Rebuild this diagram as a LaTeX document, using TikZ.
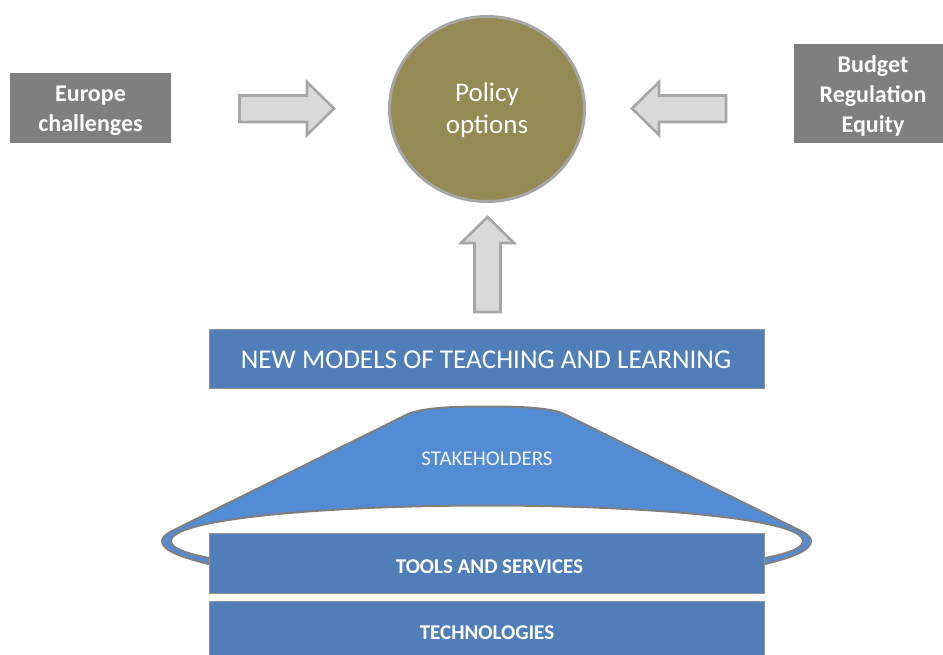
\documentclass[tikz,border=0pt]{standalone}
\usepackage{fontspec}
\usetikzlibrary{shapes.geometric}
\setmainfont{Carlito}
\definecolor{boxblue}{HTML}{4F7EB8}
\definecolor{capblue}{HTML}{538BD5}
\definecolor{edgegrey}{HTML}{7F7F7F}
\definecolor{arrowedge}{HTML}{A6A6A6}
\definecolor{arrowfill}{HTML}{D9D9D9}
\definecolor{olive}{HTML}{948A54}
\tikzset{
  x=1pt,y=-1pt,
  greyfill/.style={fill=edgegrey,draw=none},
  greytext/.style={text=white,font=\bfseries\fontsize{24}{29.7}\selectfont,align=center,inner sep=0pt},
  bluefill/.style={fill=boxblue,draw=edgegrey!85!white,line width=1.9pt},
  bluetext/.style={text=white,inner sep=0pt,align=center,font=\bfseries\fontsize{21}{24}\selectfont},
  blockarrow/.style={fill=arrowfill,draw=arrowedge,line width=2.6pt,line join=miter},
}
\begin{document}
\begin{tikzpicture}
\path[use as bounding box] (0,0) rectangle (943,655);
% stakeholders cap
\draw[fill=capblue,draw=edgegrey,line width=2pt,line join=round]
  (209,564) .. controls (180,557) and (162,550) .. (162,541)
  .. controls (162,538) and (165,535) .. (170,532)
  -- (408,414) .. controls (425,407) and (460,406.5) .. (487,406.5)
  .. controls (514,406.5) and (549,407) .. (564,414)
  -- (803,532) .. controls (808,535) and (811,538) .. (811,541)
  .. controls (811,550) and (794,557) .. (765,564)
  -- (765,558) .. controls (790,553) and (803,548) .. (803,541)
  .. controls (803,518) and (640,505.5) .. (487,505.5)
  .. controls (334,505.5) and (171,518) .. (171,541)
  .. controls (171,548) and (184,553) .. (209,558) -- cycle;
\node[text=white,inner sep=0pt,font=\fontsize{21}{24}\selectfont,opacity=.9] (stake) at (487,458.5) {STAKEHOLDERS};
% top row
\path[greyfill] (10,73) rectangle (171,143);
\node[greytext] (europe) at (90.5,111) {Europe\\challenges};
\path[greyfill] (794,44) rectangle (943,143);
\node[greytext] (budget) at (873,96) {Budget\\Regulation\\Equity};
\node[ellipse,fill=olive,draw=arrowedge,line width=3pt,minimum width=195pt,minimum height=185pt,inner sep=0pt] (policy) at (487,109) {};
\node[text=white,align=center,inner sep=0pt,font=\fontsize{27}{32}\selectfont] (policytext) at (487,110) {Policy\\options};
% block arrows
\draw[blockarrow] (239.5,95.5) -- (307,95.5) -- (307,82) -- (334,108.5) -- (307,135) -- (307,122) -- (239.5,122) -- cycle;
\draw[blockarrow] (726,95.5) -- (659,95.5) -- (659,82) -- (632,108.5) -- (659,135) -- (659,122) -- (726,122) -- cycle;
\draw[blockarrow] (474.5,312) -- (474.5,243) -- (461,243) -- (487.5,217) -- (514,243) -- (500.5,243) -- (500.5,312) -- cycle;
% blue boxes
\path[bluefill] (209.5,329.5) rectangle (764.5,388.5);
\node[bluetext,font=\fontsize{27.2}{30}\selectfont] (models) at (486,359.5) {NEW MODELS OF TEACHING AND LEARNING};
\path[bluefill] (209.5,533.5) rectangle (764.5,593.5);
\node[bluetext] (tools) at (489.5,567) {TOOLS AND SERVICES};
\path[bluefill] (209.5,601.5) rectangle (764.5,662);
\node[bluetext] (tech) at (487,633) {TECHNOLOGIES};
\end{tikzpicture}
\end{document}
